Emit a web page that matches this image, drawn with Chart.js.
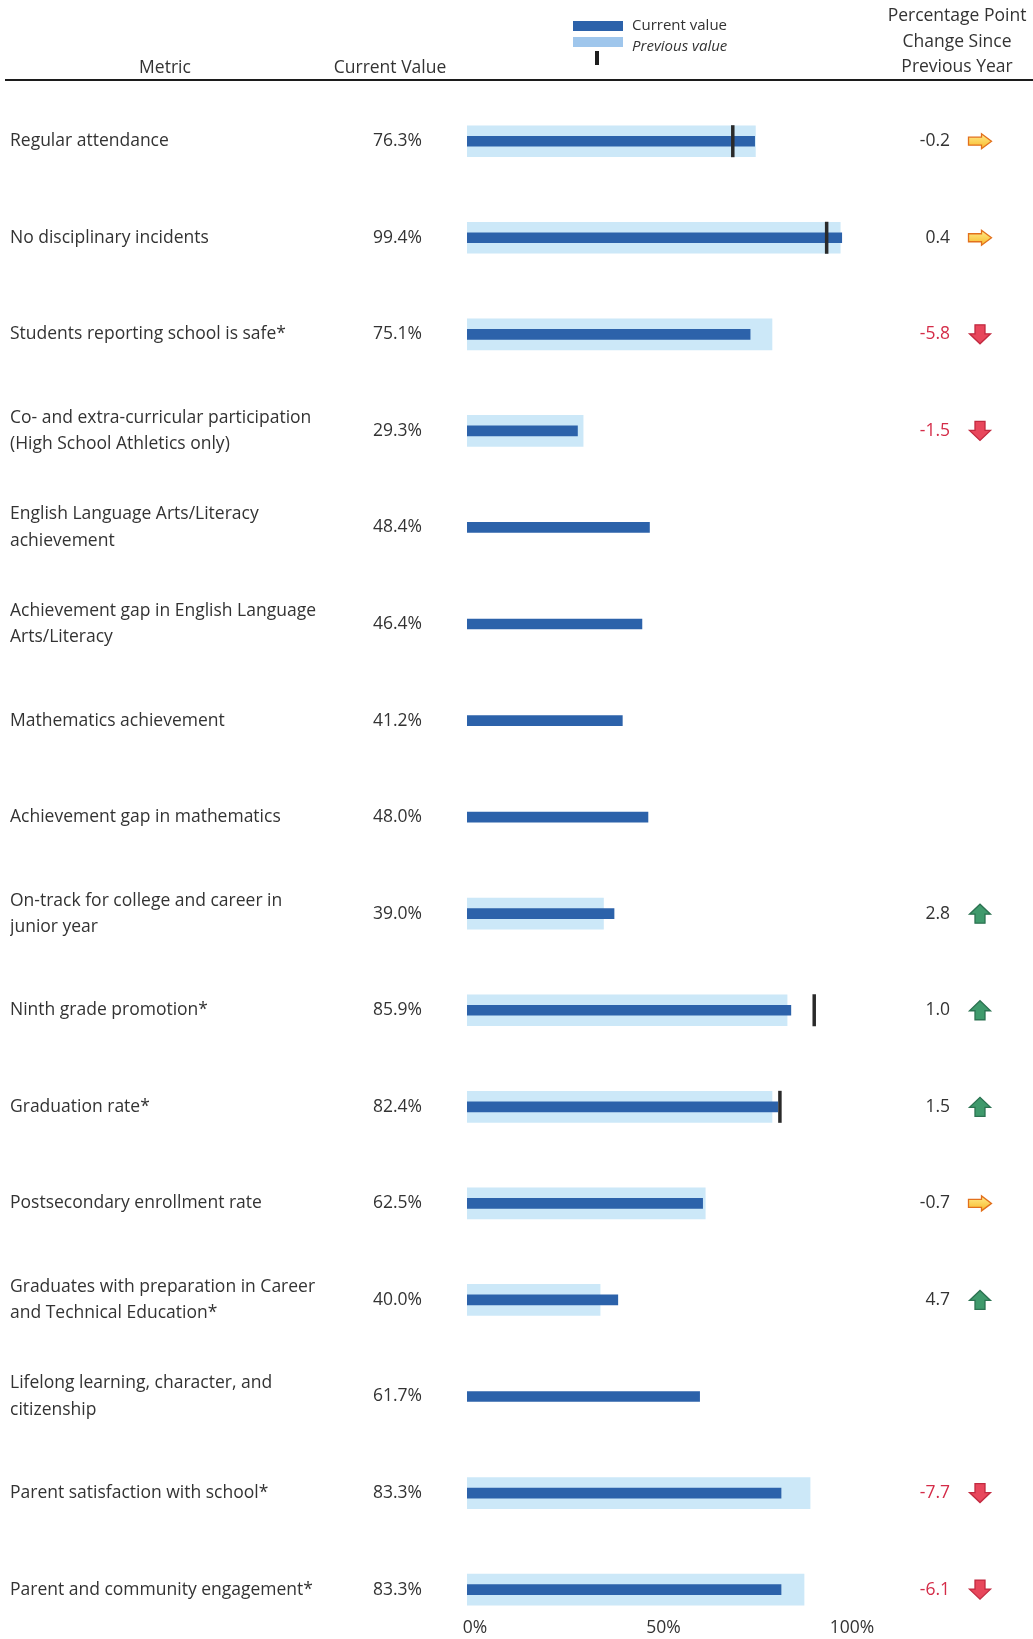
<!DOCTYPE html>
<html>
<head>
<meta charset="utf-8">
<script src="https://cdn.jsdelivr.net/npm/chart.js@4.4.1/dist/chart.umd.min.js"></script>
<style>
  html, body { margin: 0; padding: 0; background: #fff; }
</style>
</head>
<body>
<canvas id="chart" width="1033" height="1639"></canvas>
<script>
// Rows of the table (arrays are wrapped labels)
const metrics = [
  'Regular attendance',
  'No disciplinary incidents',
  'Students reporting school is safe*',
  ['Co- and extra-curricular participation', '(High School Athletics only)'],
  ['English Language Arts/Literacy', 'achievement'],
  ['Achievement gap in English Language', 'Arts/Literacy'],
  'Mathematics achievement',
  'Achievement gap in mathematics',
  ['On-track for college and career in', 'junior year'],
  'Ninth grade promotion*',
  'Graduation rate*',
  'Postsecondary enrollment rate',
  ['Graduates with preparation in Career', 'and Technical Education*'],
  ['Lifelong learning, character, and', 'citizenship'],
  'Parent satisfaction with school*',
  'Parent and community engagement*'
];
const currentValues = [76.3, 99.4, 75.1, 29.3, 48.4, 46.4, 41.2, 48.0, 39.0, 85.9, 82.4, 62.5, 40.0, 61.7, 83.3, 83.3];
const previousValues = [76.5, 99.0, 80.9, 30.8, null, null, null, null, 36.2, 84.9, 80.9, 63.2, 35.3, null, 91.0, 89.4];
const targetValues = [70.5, 95.4, null, null, null, null, null, null, null, 92.1, 83.0, null, null, null, null, null];
const changeValues = [-0.2, 0.4, -5.8, -1.5, null, null, null, null, 2.8, 1.0, 1.5, -0.7, 4.7, null, -7.7, -6.1];
const trends = ['flat', 'flat', 'down', 'down', null, null, null, null, 'up', 'up', 'up', 'flat', 'up', null, 'down', 'down'];
const xTicks = [0, 50, 100];

const FONT = '"Open Sans", Lato, sans-serif';
const TEXT = '#333333';
const SIZE = 17.5;

// turn a value list into {x, y} points, skipping empty rows
function toPoints(values) {
  const out = [];
  values.forEach((v, i) => {
    if (v !== null) out.push({ x: v, y: i });
  });
  return out;
}

// Arrow icons for the change column
function drawArrow(ctx, kind, cx, cy) {
  ctx.save();
  ctx.beginPath();
  let fill, stroke;
  if (kind === 'flat') {
    const w = 23, h = 15, sh = 8, head = 10;
    const x0 = cx - w / 2;
    ctx.moveTo(x0, cy - sh / 2);
    ctx.lineTo(x0 + w - head, cy - sh / 2);
    ctx.lineTo(x0 + w - head, cy - h / 2);
    ctx.lineTo(x0 + w, cy);
    ctx.lineTo(x0 + w - head, cy + h / 2);
    ctx.lineTo(x0 + w - head, cy + sh / 2);
    ctx.lineTo(x0, cy + sh / 2);
    const g = ctx.createLinearGradient(0, cy - h / 2, 0, cy + h / 2);
    g.addColorStop(0, '#ffec8c');
    g.addColorStop(1, '#f7b92a');
    fill = g;
    stroke = '#e2701c';
  } else {
    const w = 21, h = 19, sw = 10, head = 10;
    const dir = kind === 'up' ? -1 : 1;
    const tip = cy + dir * h / 2;
    const back = cy - dir * h / 2;
    const neck = tip - dir * head;
    ctx.moveTo(cx - sw / 2, back);
    ctx.lineTo(cx + sw / 2, back);
    ctx.lineTo(cx + sw / 2, neck);
    ctx.lineTo(cx + w / 2, neck);
    ctx.lineTo(cx, tip);
    ctx.lineTo(cx - w / 2, neck);
    ctx.lineTo(cx - sw / 2, neck);
    if (kind === 'up') {
      fill = '#3f9a6c';
      stroke = '#2c7352';
    } else {
      fill = '#e8475c';
      stroke = '#c22a40';
    }
  }
  ctx.closePath();
  ctx.fillStyle = fill;
  ctx.fill();
  ctx.lineWidth = 1.3;
  ctx.strokeStyle = stroke;
  ctx.stroke();
  ctx.restore();
}

// Header, legend, value column and change column
const tablePlugin = {
  id: 'tableText',
  afterDraw(chart) {
    const ctx = chart.ctx;
    const y = chart.scales.y;
    ctx.save();

    // column headers
    ctx.fillStyle = TEXT;
    ctx.font = SIZE + 'px ' + FONT;
    ctx.textAlign = 'center';
    ctx.textBaseline = 'middle';
    ctx.fillText('Metric', 165, 68);
    ctx.fillText('Current Value', 390, 68);
    ctx.fillText('Percentage Point', 957, 16);
    ctx.fillText('Change Since', 957, 42);
    ctx.fillText('Previous Year', 957, 67);

    // header rule
    ctx.strokeStyle = '#1c1c1c';
    ctx.lineWidth = 2;
    ctx.beginPath();
    ctx.moveTo(5, 80);
    ctx.lineTo(1033, 80);
    ctx.stroke();

    // legend
    ctx.fillStyle = '#2c62aa';
    ctx.fillRect(573, 21, 50, 10);
    ctx.fillStyle = '#9fc6ec';
    ctx.fillRect(573, 37, 50, 10);
    ctx.fillStyle = '#1e1e1e';
    ctx.fillRect(595, 51, 4, 14);
    ctx.fillStyle = TEXT;
    ctx.textAlign = 'left';
    ctx.font = '15px ' + FONT;
    ctx.fillText('Current value', 632, 26);
    ctx.font = 'italic 15px ' + FONT;
    ctx.fillText('Previous value', 632, 47);

    // per-row value and change columns
    ctx.font = SIZE + 'px ' + FONT;
    ctx.textAlign = 'right';
    currentValues.forEach((v, i) => {
      const py = y.getPixelForValue(i);
      ctx.fillStyle = TEXT;
      ctx.fillText(v.toFixed(1) + '%', 422, py);
      if (changeValues[i] !== null) {
        ctx.fillStyle = trends[i] === 'down' ? '#d42c48' : TEXT;
        ctx.fillText(changeValues[i].toFixed(1), 950, py);
        drawArrow(ctx, trends[i], 980, py);
      }
    });
    ctx.restore();
  }
};

new Chart(document.getElementById('chart'), {
  type: 'bar',
  data: {
    datasets: [
      {
        type: 'scatter',
        label: 'Target',
        data: toPoints(targetValues),
        pointStyle: 'line',
        rotation: 90,
        radius: 16,
        borderWidth: 3.5,
        borderColor: '#2a2a2a',
        order: 0
      },
      {
        label: 'Current value',
        data: toPoints(currentValues),
        backgroundColor: '#2c62aa',
        barThickness: 10,
        grouped: false,
        order: 1
      },
      {
        label: 'Previous value',
        data: toPoints(previousValues),
        backgroundColor: '#cce8f8',
        barThickness: 31,
        grouped: false,
        order: 2
      }
    ]
  },
  options: {
    indexAxis: 'y',
    responsive: false,
    animation: false,
    devicePixelRatio: 1,
    layout: { padding: { left: 10, right: 189, top: 91, bottom: 0 } },
    plugins: {
      legend: { display: false },
      tooltip: { enabled: false }
    },
    scales: {
      x: {
        type: 'linear',
        position: 'bottom',
        bounds: 'data',
        offset: false,
        min: 0,
        max: 100,
        afterBuildTicks: s => { s.ticks = xTicks.map(v => ({ value: v })); },
        afterFit: s => { s.height = 32; },
        ticks: {
          callback: v => v + '%',
          color: TEXT,
          font: { family: FONT, size: SIZE },
          padding: 11,
          labelOffset: 8,
          maxRotation: 0
        },
        grid: { display: false, drawTicks: false },
        border: { display: false }
      },
      y: {
        type: 'linear',
        reverse: true,
        bounds: 'data',
        offset: false,
        min: -0.52,
        max: 15.18,
        afterBuildTicks: s => { s.ticks = metrics.map((m, i) => ({ value: i })); },
        afterFit: s => { s.width = 457; },
        ticks: {
          callback: v => metrics[v],
          crossAlign: 'far',
          autoSkip: false,
          padding: 0,
          color: TEXT,
          font: { family: FONT, size: SIZE, lineHeight: 1.5 }
        },
        grid: { display: false, drawTicks: false },
        border: { display: false }
      }
    }
  },
  plugins: [tablePlugin]
});
</script>
</body>
</html>
